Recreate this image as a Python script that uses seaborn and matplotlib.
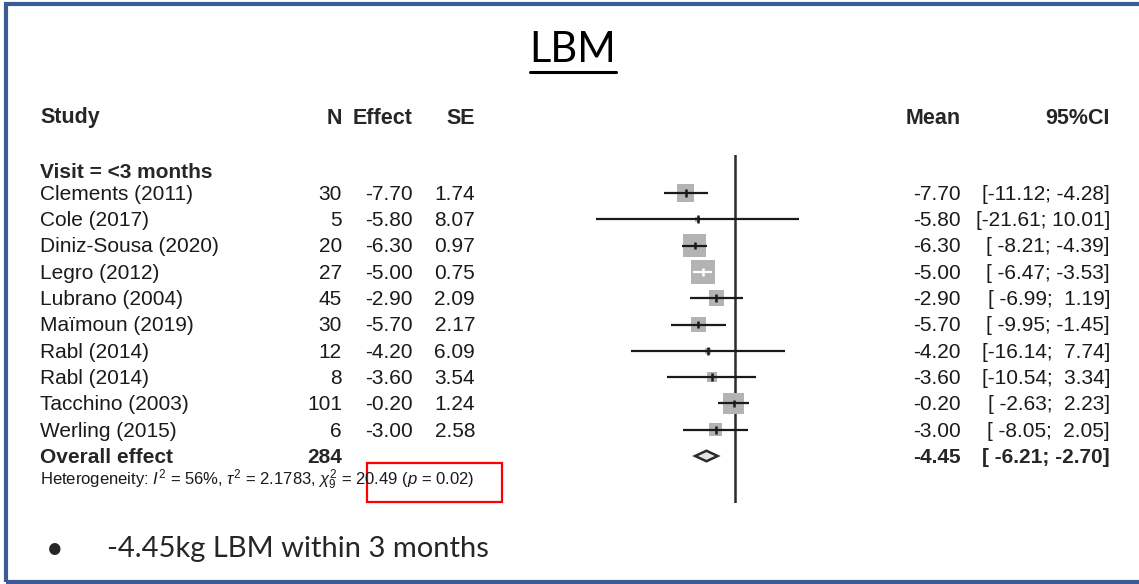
import numpy as np
import pandas as pd
import seaborn as sns
import matplotlib.pyplot as plt
from matplotlib import transforms
from matplotlib.patches import Polygon, Rectangle
from matplotlib.lines import Line2D

# ---- data ----
studies = ["Clements (2011)", "Cole (2017)", "Diniz-Sousa (2020)", "Legro (2012)",
           "Lubrano (2004)", "Maïmoun (2019)", "Rabl (2014)", "Rabl (2014)",
           "Tacchino (2003)", "Werling (2015)"]
n = [30, 5, 20, 27, 45, 30, 12, 8, 101, 6]
effect = [-7.70, -5.80, -6.30, -5.00, -2.90, -5.70, -4.20, -3.60, -0.20, -3.00]
se = [1.74, 8.07, 0.97, 0.75, 2.09, 2.17, 6.09, 3.54, 1.24, 2.58]
lower = [-11.12, -21.61, -8.21, -6.47, -6.99, -9.95, -16.14, -10.54, -2.63, -8.05]
upper = [-4.28, 10.01, -4.39, -3.53, 1.19, -1.45, 7.74, 3.34, 2.23, 2.05]
overall_n = 284
overall_mean = -4.45
overall_lower = -6.21
overall_upper = -2.70
tau2 = 2.1783
subgroup = "Visit = <3 months"
headers = ["Study", "N", "Effect", "SE", "Mean", "95%CI"]
title = "LBM"
bullet = "-4.45kg LBM within 3 months"

W, H = 1139, 584
sns.set_theme(style="white")
plt.rcParams["font.family"] = ["Liberation Sans", "DejaVu Sans"]
plt.rcParams["mathtext.fontset"] = "custom"
plt.rcParams["mathtext.rm"] = "Liberation Sans"
plt.rcParams["mathtext.it"] = "Liberation Sans:italic"

fig = plt.figure(figsize=(W / 100, H / 100), dpi=100)
fig.patch.set_facecolor("white")


def fx(px):
    return px / W


def fy(py):
    return 1 - py / H


# forest axes: x=0 at px 735, 6.42 px per unit; rows 26.3 px apart
xlim = (-22.0, 10.5)
ppu = 6.42
left_px = 735 + xlim[0] * ppu
right_px = 735 + xlim[1] * ppu
top_px, bot_px = 155, 503
row0_px, row_gap = 193, 26.3
ylim = ((bot_px - row0_px) / row_gap, (top_px - row0_px) / row_gap)
ax = fig.add_axes([fx(left_px), fy(bot_px), (right_px - left_px) / W, (bot_px - top_px) / H])
ax.set_xlim(*xlim)
ax.set_ylim(*ylim)
ax.axis("off")

df = pd.DataFrame({"study": studies, "n": n, "effect": effect, "se": se,
                   "lower": lower, "upper": upper})
df["row"] = np.arange(len(df))
df["w"] = 1 / (df["se"] ** 2 + tau2)

# box area proportional to weight, largest box ~24 px
smax = (24 * 0.72) ** 2
df["s"] = smax * df["w"] / df["w"].max()
side_units = np.sqrt(df["s"]) / 0.72 / ppu
inside = (df["upper"] - df["lower"]) < side_units
df["ci_col"] = np.where(inside, "white", "#1a1a1a")

ax.axvline(0, color="#2b2b2b", lw=1.8, zorder=1)
sns.scatterplot(data=df, x="effect", y="row", size="w",
                sizes=(df["s"].min(), df["s"].max()), marker="s",
                color="#b3b3b3", linewidth=0, legend=False, ax=ax, zorder=2)
ax.hlines(df["row"], df["lower"], df["upper"], colors=df["ci_col"], lw=1.6, zorder=3)
ax.scatter(df["effect"], df["row"], marker="|", s=30, c=df["ci_col"], linewidths=1.8, zorder=4)

yo = len(df)
diamond = Polygon([(overall_lower, yo), (overall_mean, yo - 0.2),
                   (overall_upper, yo), (overall_mean, yo + 0.2)],
                  closed=True, facecolor="#e4e4e4", edgecolor="#2b2b2b", lw=1.8, zorder=3)
ax.add_patch(diamond)

# text columns
tr = transforms.blended_transform_factory(fig.transFigure, ax.transData)
fs = 15
hfs = 15.5
hy = fy(118)
fig.text(fx(40), hy, headers[0], fontsize=hfs, fontweight="bold", va="center")
fig.text(fx(342), hy, headers[1], fontsize=hfs, fontweight="bold", va="center", ha="right")
fig.text(fx(413), hy, headers[2], fontsize=hfs, fontweight="bold", va="center", ha="right")
fig.text(fx(475), hy, headers[3], fontsize=hfs, fontweight="bold", va="center", ha="right")
fig.text(fx(961), hy, headers[4], fontsize=hfs, fontweight="bold", va="center", ha="right")
fig.text(fx(1110), hy, headers[5], fontsize=hfs, fontweight="bold", va="center", ha="right")

fig.text(fx(40), fy(172), subgroup, fontsize=fs, fontweight="bold", va="center")

for _, r in df.iterrows():
    y = r["row"] + 0.05
    ax.text(fx(40), y, r["study"], transform=tr, fontsize=fs, va="center", color="#1a1a1a")
    ax.text(fx(342), y, f"{r['n']:d}", transform=tr, fontsize=fs, va="center", ha="right", color="#1a1a1a")
    ax.text(fx(413), y, f"{r['effect']:.2f}", transform=tr, fontsize=fs, va="center", ha="right", color="#1a1a1a")
    ax.text(fx(475), y, f"{r['se']:.2f}", transform=tr, fontsize=fs, va="center", ha="right", color="#1a1a1a")
    ax.text(fx(961), y, f"{r['effect']:.2f}", transform=tr, fontsize=fs, va="center", ha="right", color="#1a1a1a")
    ax.text(fx(1110), y, f"[{r['lower']:6.2f}; {r['upper']:5.2f}]", transform=tr,
            fontsize=fs, va="center", ha="right", color="#1a1a1a")

ax.text(fx(40), yo + 0.07, "Overall effect", transform=tr, fontsize=fs, fontweight="bold", va="center")
ax.text(fx(342), yo + 0.07, f"{overall_n}", transform=tr, fontsize=fs, fontweight="bold", va="center", ha="right")
ax.text(fx(961), yo + 0.07, f"{overall_mean:.2f}", transform=tr, fontsize=fs, fontweight="bold", va="center", ha="right")
ax.text(fx(1110), yo + 0.07, f"[{overall_lower:6.2f}; {overall_upper:5.2f}]", transform=tr,
        fontsize=fs, fontweight="bold", va="center", ha="right")

het = (r"Heterogeneity: $\mathit{I}^2$ = 56%, $\tau^2$ = 2.1783, "
       r"$\chi^2_9$ = 20.49 ($\mathit{p}$ = 0.02)")
fig.text(fx(40), fy(480), het, fontsize=12, va="center", color="#1a1a1a")

# red highlight box
fig.add_artist(Rectangle((fx(367), fy(502)), (502 - 367) / W, (502 - 463) / H,
                         transform=fig.transFigure, fill=False, edgecolor="#ff0000", lw=1.6))

# title with underline
t = fig.text(fx(573), fy(50), title, fontsize=30, family=["Lato", "DejaVu Sans"],
             ha="center", va="center", color="black")
fig.canvas.draw()
bb = t.get_window_extent().transformed(fig.transFigure.inverted())
fig.add_artist(Line2D([bb.x0, bb.x1], [fy(72), fy(72)], transform=fig.transFigure,
                      color="black", lw=2.2))

# bullet line
fig.text(fx(46), fy(549), "\u2022", fontsize=22, family=["Lato", "DejaVu Sans"], va="center")
fig.text(fx(107), fy(549), bullet, fontsize=21, family=["Lato", "DejaVu Sans"], va="center")

# slide frame
fig.add_artist(Rectangle((fx(6), fy(582)), (1145 - 6) / W, (582 - 4) / H,
                         transform=fig.transFigure, fill=False, edgecolor="#3c5a96", lw=3))

fig.savefig("out.png", dpi=100)
